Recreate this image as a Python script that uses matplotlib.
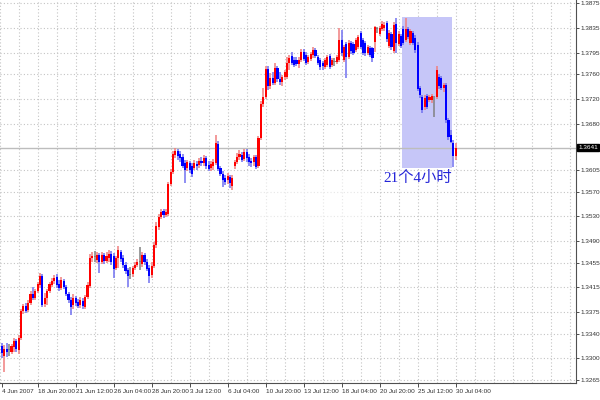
import matplotlib
matplotlib.use("Agg")
import matplotlib.pyplot as plt
from matplotlib.patches import Rectangle
import numpy as np

# 4-hour bars, EURUSD-like
opens = [1.3320, 1.3304, 1.3315, 1.3314, 1.3310, 1.3319, 1.3328, 1.3314, 1.3333, 1.3377,
         1.3385, 1.3378, 1.3390, 1.3404, 1.3398, 1.3409, 1.3419, 1.3433, 1.3388, 1.3398,
         1.3409, 1.3419, 1.3425, 1.3432, 1.3420, 1.3414, 1.3425, 1.3416, 1.3404, 1.3395,
         1.3387, 1.3398, 1.3391, 1.3387, 1.3393, 1.3383, 1.3399, 1.3417, 1.3463, 1.3464,
         1.3459, 1.3467, 1.3456, 1.3467, 1.3458, 1.3463, 1.3469, 1.3466, 1.3446, 1.3463,
         1.3472, 1.3463, 1.3451, 1.3443, 1.3435, 1.3437, 1.3446, 1.3451, 1.3456, 1.3453,
         1.3467, 1.3456, 1.3446, 1.3435, 1.3450, 1.3484, 1.3513, 1.3529, 1.3539, 1.3532,
         1.3534, 1.3582, 1.3602, 1.3629, 1.3636, 1.3631, 1.3626, 1.3616, 1.3608, 1.3616,
         1.3611, 1.3608, 1.3615, 1.3613, 1.3620, 1.3616, 1.3624, 1.3613, 1.3608, 1.3611,
         1.3616, 1.3647, 1.3608, 1.3598, 1.3592, 1.3589, 1.3594, 1.3579, 1.3611, 1.3618,
         1.3626, 1.3629, 1.3623, 1.3634, 1.3626, 1.3620, 1.3618, 1.3626, 1.3611, 1.3657,
         1.3712, 1.3723, 1.3768, 1.3741, 1.3754, 1.3746, 1.3770, 1.3752, 1.3747, 1.3755,
         1.3755, 1.3778, 1.3789, 1.3783, 1.3783, 1.3776, 1.3783, 1.3796, 1.3791, 1.3780,
         1.3785, 1.3791, 1.3799, 1.3788, 1.3783, 1.3778, 1.3772, 1.3775, 1.3789, 1.3775,
         1.3780, 1.3780, 1.3783, 1.3815, 1.3783, 1.3809, 1.3788, 1.3810, 1.3809, 1.3799,
         1.3804, 1.3827, 1.3815, 1.3810, 1.3794, 1.3802, 1.3802, 1.3812, 1.3833, 1.3825,
         1.3833, 1.3835, 1.3843, 1.3806, 1.3825, 1.3797, 1.3841, 1.3809, 1.3822, 1.3833,
         1.3815, 1.3833, 1.3810, 1.3827, 1.3819, 1.3807, 1.3738, 1.3723, 1.3707, 1.3725,
         1.3718, 1.3718, 1.3721, 1.3723, 1.3755, 1.3754, 1.3738, 1.3742, 1.3686, 1.3662,
         1.3649, 1.3628]
highs = [1.3325, 1.3322, 1.3325, 1.3323, 1.3323, 1.3333, 1.3331, 1.3338, 1.3380, 1.3388,
         1.3390, 1.3395, 1.3409, 1.3416, 1.3412, 1.3424, 1.3438, 1.3437, 1.3406, 1.3412,
         1.3424, 1.3430, 1.3435, 1.3437, 1.3427, 1.3432, 1.3429, 1.3419, 1.3408, 1.3399,
         1.3404, 1.3401, 1.3396, 1.3399, 1.3398, 1.3403, 1.3424, 1.3469, 1.3472, 1.3474,
         1.3472, 1.3471, 1.3472, 1.3471, 1.3472, 1.3475, 1.3474, 1.3471, 1.3466, 1.3482,
         1.3475, 1.3467, 1.3456, 1.3446, 1.3448, 1.3450, 1.3456, 1.3461, 1.3480, 1.3472,
         1.3471, 1.3461, 1.3451, 1.3456, 1.3488, 1.3521, 1.3534, 1.3542, 1.3542, 1.3542,
         1.3586, 1.3607, 1.3636, 1.3641, 1.3639, 1.3636, 1.3631, 1.3621, 1.3621, 1.3620,
         1.3616, 1.3621, 1.3620, 1.3624, 1.3626, 1.3629, 1.3628, 1.3620, 1.3620, 1.3623,
         1.3662, 1.3652, 1.3611, 1.3603, 1.3597, 1.3600, 1.3597, 1.3597, 1.3621, 1.3632,
         1.3637, 1.3634, 1.3639, 1.3639, 1.3631, 1.3624, 1.3629, 1.3629, 1.3660, 1.3716,
         1.3738, 1.3773, 1.3773, 1.3762, 1.3764, 1.3778, 1.3773, 1.3764, 1.3759, 1.3767,
         1.3788, 1.3791, 1.3796, 1.3788, 1.3788, 1.3788, 1.3801, 1.3801, 1.3796, 1.3791,
         1.3796, 1.3804, 1.3802, 1.3791, 1.3786, 1.3781, 1.3786, 1.3791, 1.3793, 1.3786,
         1.3786, 1.3791, 1.3835, 1.3831, 1.3807, 1.3812, 1.3815, 1.3814, 1.3812, 1.3819,
         1.3823, 1.3830, 1.3819, 1.3814, 1.3807, 1.3806, 1.3804, 1.3838, 1.3836, 1.3838,
         1.3846, 1.3844, 1.3846, 1.3831, 1.3828, 1.3844, 1.3851, 1.3830, 1.3825, 1.3838,
         1.3851, 1.3836, 1.3833, 1.3830, 1.3823, 1.3812, 1.3741, 1.3726, 1.3726, 1.3728,
         1.3726, 1.3728, 1.3725, 1.3773, 1.3760, 1.3757, 1.3746, 1.3746, 1.3689, 1.3670,
         1.3653, 1.3649]
lows = [1.3301, 1.3278, 1.3302, 1.3304, 1.3307, 1.3310, 1.3310, 1.3307, 1.3330, 1.3372,
        1.3374, 1.3375, 1.3387, 1.3395, 1.3395, 1.3406, 1.3414, 1.3383, 1.3383, 1.3387,
        1.3406, 1.3416, 1.3420, 1.3414, 1.3409, 1.3411, 1.3412, 1.3401, 1.3390, 1.3370,
        1.3380, 1.3385, 1.3382, 1.3382, 1.3380, 1.3380, 1.3396, 1.3414, 1.3456, 1.3456,
        1.3454, 1.3438, 1.3453, 1.3453, 1.3454, 1.3456, 1.3451, 1.3430, 1.3443, 1.3446,
        1.3456, 1.3446, 1.3437, 1.3416, 1.3429, 1.3432, 1.3443, 1.3448, 1.3443, 1.3448,
        1.3451, 1.3442, 1.3422, 1.3430, 1.3446, 1.3479, 1.3508, 1.3526, 1.3527, 1.3529,
        1.3531, 1.3579, 1.3598, 1.3624, 1.3621, 1.3618, 1.3608, 1.3584, 1.3603, 1.3600,
        1.3594, 1.3605, 1.3605, 1.3608, 1.3611, 1.3611, 1.3607, 1.3603, 1.3603, 1.3605,
        1.3613, 1.3603, 1.3595, 1.3577, 1.3581, 1.3582, 1.3576, 1.3573, 1.3607, 1.3615,
        1.3621, 1.3618, 1.3620, 1.3618, 1.3611, 1.3610, 1.3611, 1.3607, 1.3608, 1.3653,
        1.3707, 1.3720, 1.3734, 1.3736, 1.3742, 1.3742, 1.3747, 1.3742, 1.3741, 1.3751,
        1.3752, 1.3767, 1.3775, 1.3772, 1.3773, 1.3770, 1.3780, 1.3781, 1.3775, 1.3776,
        1.3781, 1.3786, 1.3786, 1.3775, 1.3767, 1.3767, 1.3768, 1.3772, 1.3768, 1.3772,
        1.3773, 1.3776, 1.3780, 1.3789, 1.3780, 1.3754, 1.3785, 1.3793, 1.3791, 1.3796,
        1.3801, 1.3801, 1.3791, 1.3789, 1.3791, 1.3788, 1.3780, 1.3796, 1.3827, 1.3822,
        1.3830, 1.3830, 1.3812, 1.3802, 1.3799, 1.3794, 1.3794, 1.3806, 1.3802, 1.3807,
        1.3812, 1.3817, 1.3807, 1.3807, 1.3794, 1.3733, 1.3721, 1.3697, 1.3702, 1.3704,
        1.3715, 1.3713, 1.3691, 1.3720, 1.3736, 1.3734, 1.3731, 1.3681, 1.3653, 1.3649,
        1.3610, 1.3621]
closes = [1.3309, 1.3315, 1.3310, 1.3314, 1.3320, 1.3328, 1.3315, 1.3333, 1.3377, 1.3385,
          1.3377, 1.3390, 1.3404, 1.3398, 1.3409, 1.3420, 1.3433, 1.3387, 1.3398, 1.3409,
          1.3420, 1.3425, 1.3430, 1.3419, 1.3414, 1.3427, 1.3416, 1.3404, 1.3395, 1.3383,
          1.3398, 1.3390, 1.3385, 1.3395, 1.3385, 1.3399, 1.3419, 1.3463, 1.3466, 1.3464,
          1.3467, 1.3456, 1.3467, 1.3458, 1.3466, 1.3469, 1.3456, 1.3445, 1.3463, 1.3475,
          1.3461, 1.3451, 1.3442, 1.3433, 1.3435, 1.3446, 1.3451, 1.3456, 1.3456, 1.3467,
          1.3456, 1.3445, 1.3433, 1.3450, 1.3484, 1.3514, 1.3529, 1.3537, 1.3532, 1.3537,
          1.3582, 1.3602, 1.3631, 1.3636, 1.3628, 1.3624, 1.3611, 1.3605, 1.3618, 1.3605,
          1.3598, 1.3616, 1.3611, 1.3620, 1.3616, 1.3624, 1.3611, 1.3607, 1.3615, 1.3618,
          1.3649, 1.3607, 1.3598, 1.3589, 1.3586, 1.3595, 1.3584, 1.3592, 1.3618, 1.3626,
          1.3631, 1.3621, 1.3634, 1.3624, 1.3618, 1.3616, 1.3626, 1.3610, 1.3657, 1.3712,
          1.3723, 1.3768, 1.3741, 1.3754, 1.3746, 1.3770, 1.3752, 1.3747, 1.3755, 1.3764,
          1.3778, 1.3786, 1.3778, 1.3775, 1.3776, 1.3783, 1.3796, 1.3785, 1.3778, 1.3788,
          1.3793, 1.3799, 1.3789, 1.3778, 1.3772, 1.3773, 1.3783, 1.3788, 1.3772, 1.3783,
          1.3780, 1.3788, 1.3815, 1.3794, 1.3804, 1.3788, 1.3810, 1.3797, 1.3794, 1.3815,
          1.3820, 1.3804, 1.3794, 1.3794, 1.3804, 1.3791, 1.3786, 1.3836, 1.3833, 1.3835,
          1.3841, 1.3840, 1.3817, 1.3827, 1.3804, 1.3840, 1.3810, 1.3825, 1.3806, 1.3810,
          1.3833, 1.3820, 1.3830, 1.3810, 1.3799, 1.3736, 1.3726, 1.3702, 1.3721, 1.3707,
          1.3723, 1.3725, 1.3721, 1.3767, 1.3741, 1.3738, 1.3742, 1.3686, 1.3658, 1.3650,
          1.3628, 1.3641]

price_ticks = [1.3265, 1.3300, 1.3340, 1.3375, 1.3415, 1.3455, 1.3490, 1.3530, 1.3570,
               1.3605, 1.3680, 1.3720, 1.3760, 1.3795, 1.3835, 1.3875]
time_tick_bars = [0, 15, 31, 47, 63, 79, 95, 111, 127, 143, 159, 175, 191]
time_labels = ['4 Jun 2007', '18 Jun 20:00', '21 Jun 12:00', '26 Jun 04:00', '28 Jun 20:00',
               '3 Jul 12:00', '6 Jul 04:00', '10 Jul 20:00', '13 Jul 12:00', '18 Jul 04:00',
               '20 Jul 20:00', '25 Jul 12:00', '30 Jul 04:00']
last_price = 1.3641
box_first_bar = 169
box_n_bars = 21
box_top, box_bottom = 1.3853, 1.3608
note = '21个4小时'

o = np.array(opens)
h = np.array(highs)
l = np.array(lows)
c = np.array(closes)
x = np.arange(len(c))

small = dict(family='Liberation Sans', size=4.6)

fig = plt.figure(figsize=(6, 4), dpi=100)
ax = fig.add_axes([0.0, 0.0425, 0.96, 0.9575])
ax.set_xlim(-0.85, 241.7)
ax.set_ylim(1.32603, 1.3880)

# dotted grid
for b in range(-1, 242, 8):
    ax.axvline(b, color='#c4c4c4', lw=0.8, ls=(0, (1, 2)), zorder=0)
for p in price_ticks:
    ax.axhline(p, color='#c4c4c4', lw=0.8, ls=(0, (1, 2)), zorder=0)

# faded patch in the middle of the chart
ax.add_patch(Rectangle((97, 1.3508), 58, 0.0093, color='white', alpha=0.6, lw=0, zorder=0.5))

# highlighted window
ax.add_patch(Rectangle((box_first_bar - 0.5, box_bottom), box_n_bars, box_top - box_bottom,
                       facecolor='#c6c6f8', edgecolor='none', zorder=1))

# current price line
ax.axhline(last_price, color='#bdbdbd', lw=1.0, zorder=1.5)

# candles
up = c > o
down = c < o
body_col = np.where(up, '#ff0000', np.where(down, '#0000ff', '#808080'))
wick_col = np.where(up, '#f07f7f', np.where(down, '#7070f0', '#808080'))
ax.vlines(x, l, h, colors=wick_col, lw=1.1, zorder=2)
body_h = np.maximum(np.abs(c - o), 0.00012)
ax.bar(x, body_h, bottom=np.minimum(o, c), width=0.9, color=body_col, lw=0, zorder=3)

# axes look
for s in ['left', 'top']:
    ax.spines[s].set_visible(False)
ax.spines['right'].set_color('#505050')
ax.spines['bottom'].set_color('#505050')
ax.yaxis.tick_right()
ax.set_yticks(price_ticks)
ax.set_yticklabels(['%.4f' % p for p in price_ticks], fontdict=small)
ax.tick_params(axis='y', length=2, width=0.6, pad=1, colors='#303030')
ax.set_xticks(time_tick_bars)
ax.set_xticklabels(time_labels, fontdict=small)
for t in ax.get_xticklabels():
    t.set_horizontalalignment('left')
ax.tick_params(axis='x', length=3, width=0.6, pad=1.5, colors='#303030')

ax.text(1.004, last_price, '%.4f' % last_price, transform=ax.get_yaxis_transform(),
        ha='left', va='center', color='white', fontdict=small,
        bbox=dict(boxstyle='square,pad=0.2', fc='black', ec='black'))

ax.text(box_first_bar + box_n_bars - 0.5, box_bottom - 0.0004, note,
        ha='right', va='top', fontsize=11, color='#2424d8',
        family=['Liberation Serif', 'Noto Sans CJK SC'], zorder=4)

fig.savefig('out.png', dpi=100, facecolor='white')
